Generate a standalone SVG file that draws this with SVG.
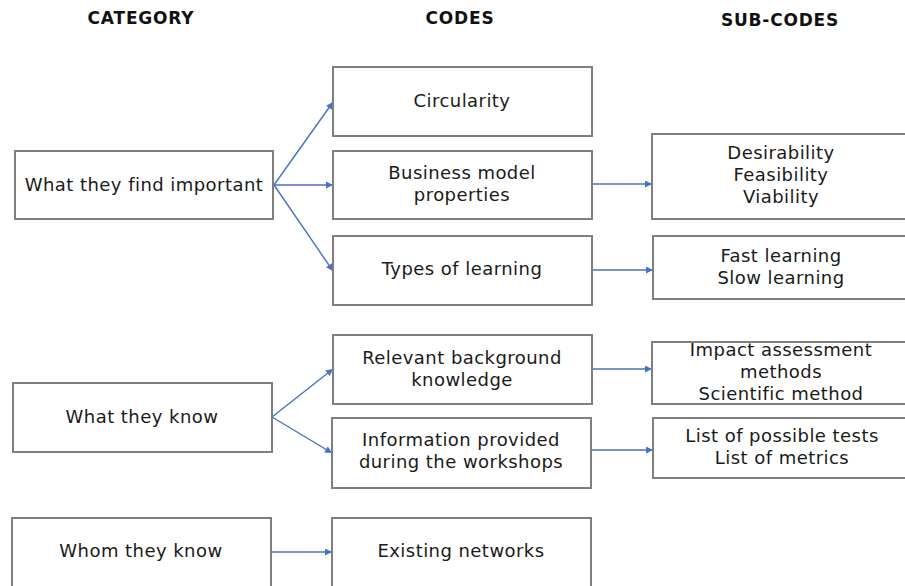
<svg xmlns="http://www.w3.org/2000/svg" width="905" height="586" viewBox="0 0 905 586">
<defs>
<style>
.box{fill:#fff;stroke:#7f7f7f;stroke-width:2}
.t{font-family:"DejaVu Sans","Liberation Sans",sans-serif;font-size:18px;letter-spacing:0.45px;fill:#1a1a1a;text-anchor:middle}
.h{font-family:"DejaVu Sans","Liberation Sans",sans-serif;font-size:17px;letter-spacing:0.8px;font-weight:bold;fill:#111;text-anchor:middle}
.c{stroke:#4472c4;stroke-width:1.4;fill:none;marker-end:url(#ah)}
</style>
<marker id="ah" viewBox="0 0 10 10" refX="10" refY="5" markerWidth="8" markerHeight="7" markerUnits="userSpaceOnUse" orient="auto">
<path d="M0,0 L10,5 L0,10 z" fill="#4472c4"/>
</marker>
</defs>
<rect width="905" height="586" fill="#fff"/>
<g id="headers">
<text class="h" x="141" y="24">CATEGORY</text>
<text class="h" x="460" y="24">CODES</text>
<text class="h" x="780" y="26">SUB-CODES</text>
</g>
<g id="connectors">
<line class="c" x1="274" y1="185" x2="333" y2="102"/>
<line class="c" x1="274" y1="185" x2="333" y2="185"/>
<line class="c" x1="274" y1="185" x2="333" y2="271"/>
<line class="c" x1="592" y1="184" x2="652" y2="184"/>
<line class="c" x1="592" y1="270" x2="653" y2="270"/>
<line class="c" x1="272" y1="417" x2="333" y2="369"/>
<line class="c" x1="272" y1="417" x2="332" y2="453"/>
<line class="c" x1="592" y1="369" x2="652" y2="369"/>
<line class="c" x1="591" y1="450" x2="653" y2="450"/>
<line class="c" x1="271" y1="552" x2="332" y2="552"/>
</g>
<g id="cat-important"><rect class="box" x="15" y="151" width="258" height="68"/><text class="t" x="144" y="191">What they find important</text></g>
<g id="cat-know"><rect class="box" x="13" y="383" width="259" height="69"/><text class="t" x="142" y="423">What they know</text></g>
<g id="cat-whom"><rect class="box" x="12" y="518" width="259" height="80"/><text class="t" x="141" y="557">Whom they know</text></g>
<g id="code-circularity"><rect class="box" x="333" y="67" width="259" height="69"/><text class="t" x="462" y="107">Circularity</text></g>
<g id="code-bm"><rect class="box" x="333" y="151" width="259" height="68"/><text class="t" x="462" y="179">Business model</text><text class="t" x="462" y="201">properties</text></g>
<g id="code-types"><rect class="box" x="333" y="236" width="259" height="69"/><text class="t" x="462" y="275">Types of learning</text></g>
<g id="code-relevant"><rect class="box" x="333" y="335" width="259" height="69"/><text class="t" x="462" y="364">Relevant background</text><text class="t" x="462" y="386">knowledge</text></g>
<g id="code-info"><rect class="box" x="332" y="418" width="259" height="70"/><text class="t" x="461" y="446">Information provided</text><text class="t" x="461" y="468">during the workshops</text></g>
<g id="code-networks"><rect class="box" x="332" y="518" width="259" height="80"/><text class="t" x="461" y="557">Existing networks</text></g>
<g id="sub-dfv"><rect class="box" x="652" y="134" width="270" height="85"/><text class="t" x="781" y="159">Desirability</text><text class="t" x="781" y="181">Feasibility</text><text class="t" x="781" y="203">Viability</text></g>
<g id="sub-learning"><rect class="box" x="653" y="236" width="270" height="63"/><text class="t" x="781" y="262">Fast learning</text><text class="t" x="781" y="284">Slow learning</text></g>
<g id="sub-impact"><rect class="box" x="652" y="342" width="270" height="62"/><text class="t" x="781" y="356">Impact assessment</text><text class="t" x="781" y="378">methods</text><text class="t" x="781" y="400">Scientific method</text></g>
<g id="sub-lists"><rect class="box" x="653" y="418" width="270" height="60"/><text class="t" x="782" y="442">List of possible tests</text><text class="t" x="782" y="464">List of metrics</text></g>
</svg>
